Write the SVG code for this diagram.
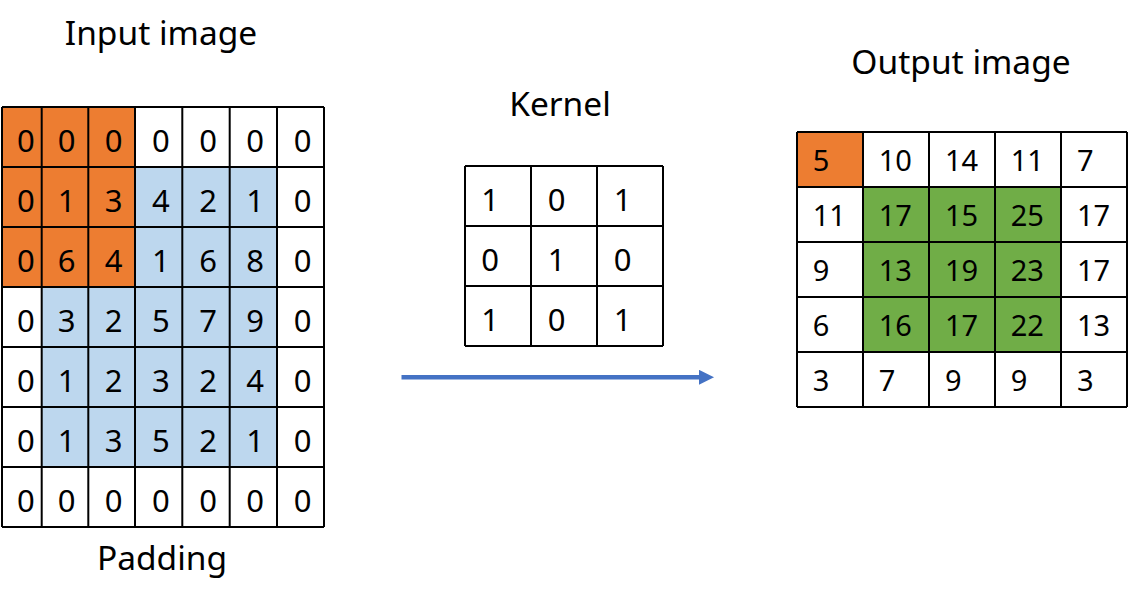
<svg xmlns="http://www.w3.org/2000/svg" width="1130" height="604" viewBox="0 0 1130 604">
<style>
.title{font-family:"Noto Sans","Liberation Sans",sans-serif;font-size:33.5px;fill:#000;text-anchor:middle}
.dg{font-family:"Noto Sans","Liberation Sans",sans-serif;font-size:31px;fill:#000;text-anchor:middle}
.od{font-family:"Noto Sans","Liberation Sans",sans-serif;font-size:29px;fill:#000}
.grid{stroke:#000;stroke-width:2;fill:none}
.or{fill:#ED7D31}
.bl{fill:#BDD7EE}
.gr{fill:#70AD47}
</style>
<defs>
<marker id="ah" markerWidth="15" markerHeight="15" refX="15" refY="7.5" orient="auto" markerUnits="userSpaceOnUse">
<path d="M0,0 L15,7.5 L0,15 Z" fill="#4472C4"/>
</marker>
</defs>
<rect width="1130" height="604" fill="#fff"/>

<g id="input-image">
<text class="title" x="161" y="45">Input image</text>
<rect class="bl" x="41.7" y="167" width="235.3" height="300"/>
<rect class="or" x="2" y="107" width="133" height="180"/>
<path class="grid" d="M2,107V527M41.7,107V527M88.3,107V527M135,107V527M182.3,107V527M229.7,107V527M277,107V527M324,107V527M2,107H324M2,167H324M2,227H324M2,287H324M2,347H324M2,407H324M2,467H324M2,527H324"/>
<g class="dg">
<text x="25.8" y="151.5">0</text><text x="66.7" y="151.5">0</text><text x="113.5" y="151.5">0</text><text x="160.8" y="151.5">0</text><text x="208.2" y="151.5">0</text><text x="255.2" y="151.5">0</text><text x="302.5" y="151.5">0</text>
<text x="25.8" y="211.5">0</text><text x="66.7" y="211.5">1</text><text x="113.5" y="211.5">3</text><text x="160.8" y="211.5">4</text><text x="208.2" y="211.5">2</text><text x="255.2" y="211.5">1</text><text x="302.5" y="211.5">0</text>
<text x="25.8" y="271.5">0</text><text x="66.7" y="271.5">6</text><text x="113.5" y="271.5">4</text><text x="160.8" y="271.5">1</text><text x="208.2" y="271.5">6</text><text x="255.2" y="271.5">8</text><text x="302.5" y="271.5">0</text>
<text x="25.8" y="331.5">0</text><text x="66.7" y="331.5">3</text><text x="113.5" y="331.5">2</text><text x="160.8" y="331.5">5</text><text x="208.2" y="331.5">7</text><text x="255.2" y="331.5">9</text><text x="302.5" y="331.5">0</text>
<text x="25.8" y="391.5">0</text><text x="66.7" y="391.5">1</text><text x="113.5" y="391.5">2</text><text x="160.8" y="391.5">3</text><text x="208.2" y="391.5">2</text><text x="255.2" y="391.5">4</text><text x="302.5" y="391.5">0</text>
<text x="25.8" y="451.5">0</text><text x="66.7" y="451.5">1</text><text x="113.5" y="451.5">3</text><text x="160.8" y="451.5">5</text><text x="208.2" y="451.5">2</text><text x="255.2" y="451.5">1</text><text x="302.5" y="451.5">0</text>
<text x="25.8" y="511.5">0</text><text x="66.7" y="511.5">0</text><text x="113.5" y="511.5">0</text><text x="160.8" y="511.5">0</text><text x="208.2" y="511.5">0</text><text x="255.2" y="511.5">0</text><text x="302.5" y="511.5">0</text>
</g>
<text class="title" x="162" y="570">Padding</text>
</g>

<g id="kernel">
<text class="title" x="560" y="116">Kernel</text>
<path class="grid" d="M465,166V346M531,166V346M597,166V346M663,166V346M465,166H663M465,226H663M465,286H663M465,346H663"/>
<g class="dg">
<text x="490" y="210.5">1</text><text x="556.5" y="210.5">0</text><text x="622.5" y="210.5">1</text>
<text x="490" y="270.5">0</text><text x="556.5" y="270.5">1</text><text x="622.5" y="270.5">0</text>
<text x="490" y="330.5">1</text><text x="556.5" y="330.5">0</text><text x="622.5" y="330.5">1</text>
</g>
</g>

<g id="output-image">
<text class="title" x="961" y="74">Output image</text>
<rect class="or" x="797" y="132" width="66" height="55"/>
<rect class="gr" x="863" y="187" width="198" height="165"/>
<path class="grid" d="M797,132V407M863,132V407M929,132V407M995,132V407M1061,132V407M1127,132V407M797,132H1127M797,187H1127M797,242H1127M797,297H1127M797,352H1127M797,407H1127"/>
<g class="od">
<text x="812.7" y="171">5</text><text x="878.7" y="171">10</text><text x="945" y="171">14</text><text x="1010.7" y="171">11</text><text x="1077" y="171">7</text>
<text x="812.7" y="226">11</text><text x="878.7" y="226">17</text><text x="945" y="226">15</text><text x="1010.7" y="226">25</text><text x="1077" y="226">17</text>
<text x="812.7" y="281">9</text><text x="878.7" y="281">13</text><text x="945" y="281">19</text><text x="1010.7" y="281">23</text><text x="1077" y="281">17</text>
<text x="812.7" y="336">6</text><text x="878.7" y="336">16</text><text x="945" y="336">17</text><text x="1010.7" y="336">22</text><text x="1077" y="336">13</text>
<text x="812.7" y="391">3</text><text x="878.7" y="391">7</text><text x="945" y="391">9</text><text x="1010.7" y="391">9</text><text x="1077" y="391">3</text>
</g>
</g>

<g id="connectors">
<line x1="401.5" y1="377.3" x2="705" y2="377.3" stroke="#4472C4" stroke-width="4.5"/>
<line x1="700" y1="377.3" x2="714" y2="377.3" stroke="#4472C4" stroke-width="0.1" marker-end="url(#ah)"/>
</g>
</svg>
